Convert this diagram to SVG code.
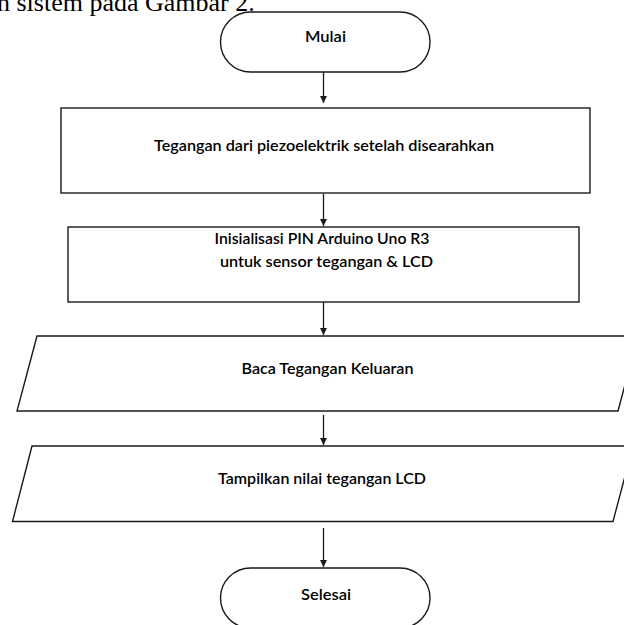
<svg xmlns="http://www.w3.org/2000/svg" width="624" height="625" viewBox="0 0 624 625">
  <style>
    .shape { fill: #ffffff; stroke: #1a1a1a; stroke-width: 1.4; }
    .lbl { font-family: Lato, "Open Sans", "Liberation Sans", sans-serif; font-size: 15.5px; font-weight: 600; fill: #000000; text-anchor: middle; }
    .cap { font-family: "Liberation Serif", "Times New Roman", serif; font-size: 26px; fill: #000000; }
    .conn { stroke: #1a1a1a; stroke-width: 1.3; fill: none; marker-end: url(#arrow); }
  </style>
  <defs>
    <marker id="arrow" markerWidth="8" markerHeight="8" refX="7" refY="3.5" orient="auto" markerUnits="userSpaceOnUse">
      <path d="M0,0 L7,3.5 L0,7 Z" fill="#1a1a1a"/>
    </marker>
  </defs>
  <rect width="624" height="625" fill="#ffffff"/>
  <text class="cap" x="-3" y="11">n sistem pada Gambar 2.</text>

  <g id="connectors">
    <line class="conn" x1="323.5" y1="72" x2="323.5" y2="103"/>
    <line class="conn" x1="323.5" y1="194" x2="323.5" y2="226"/>
    <line class="conn" x1="323.5" y1="302" x2="323.5" y2="335"/>
    <line class="conn" x1="323.5" y1="415" x2="323.5" y2="445"/>
    <line class="conn" x1="323.5" y1="528" x2="323.5" y2="567"/>
  </g>

  <g id="mulai">
    <rect class="shape" x="220.5" y="12" width="209.5" height="60" rx="30" ry="30"/>
    <text class="lbl" x="325.5" y="42" textLength="41" lengthAdjust="spacingAndGlyphs">Mulai</text>
  </g>
  <g id="tegangan">
    <rect class="shape" x="61" y="108" width="529" height="85"/>
    <text class="lbl" x="324" y="151" textLength="340" lengthAdjust="spacingAndGlyphs">Tegangan dari piezoelektrik setelah disearahkan</text>
  </g>
  <g id="inisialisasi">
    <rect class="shape" x="68" y="227" width="511" height="75"/>
    <text class="lbl" x="322" y="244" textLength="215" lengthAdjust="spacingAndGlyphs">Inisialisasi PIN Arduino Uno R3</text>
    <text class="lbl" x="326.5" y="267" textLength="213" lengthAdjust="spacingAndGlyphs">untuk sensor tegangan &amp; LCD</text>
  </g>
  <g id="baca">
    <polygon class="shape" points="37,336 638,336 618,411 17,411"/>
    <text class="lbl" x="327.5" y="374" textLength="172" lengthAdjust="spacingAndGlyphs">Baca Tegangan Keluaran</text>
  </g>
  <g id="tampilkan">
    <polygon class="shape" points="32,446 633,446 613,521.5 12.5,521.5"/>
    <text class="lbl" x="322" y="484" textLength="208" lengthAdjust="spacingAndGlyphs">Tampilkan nilai tegangan LCD</text>
  </g>
  <g id="selesai">
    <rect class="shape" x="220.5" y="568" width="209.5" height="60" rx="30" ry="30"/>
    <text class="lbl" x="326" y="600" textLength="50" lengthAdjust="spacingAndGlyphs">Selesai</text>
  </g>
</svg>
